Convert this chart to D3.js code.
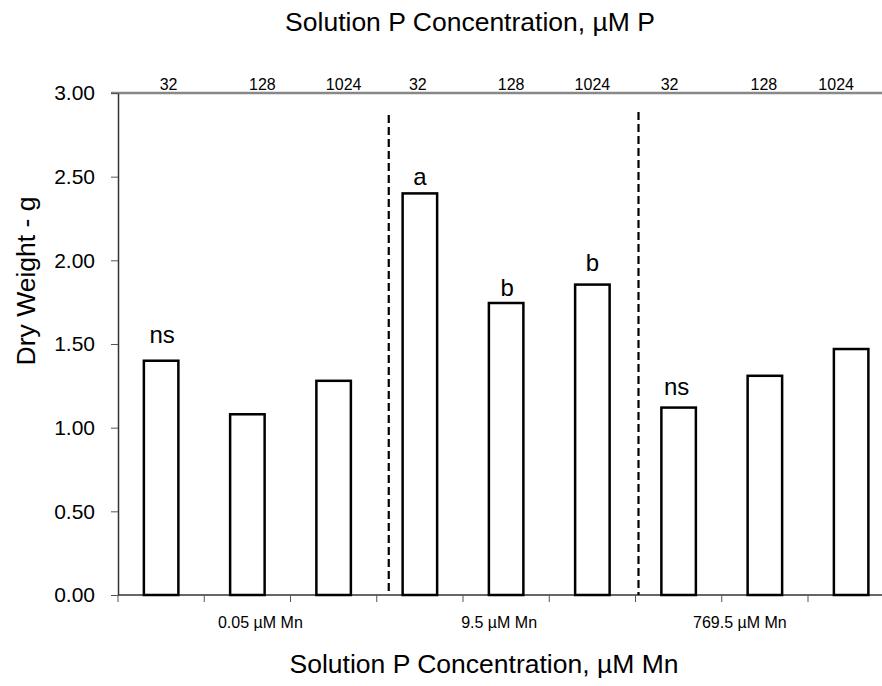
<!DOCTYPE html>
<html>
<head>
<meta charset="utf-8">
<script src="https://cdn.jsdelivr.net/npm/d3@7"></script>
<style>
  body { margin: 0; background: #fff; }
  svg { font-family: "Liberation Sans", Arial, sans-serif; }
</style>
</head>
<body>
<div id="chart"></div>
<script>
// Dry weight by Mn level (groups) and P concentration (bars)
const groups = ["0.05 µM Mn", "9.5 µM Mn", "769.5 µM Mn"];
const pLevels = ["32", "128", "1024"];
const dryWeight = [1.40, 1.08, 1.28, 2.40, 1.745, 1.855, 1.12, 1.31, 1.47];
const letters = ["ns", "", "", "a", "b", "b", "ns", "", ""];
const yTicks = [0, 0.5, 1, 1.5, 2, 2.5, 3];

// layout tweaks (pixel nudges to match the source figure)
const topLabelShift = [7.5, 15, 10, -2, 5, 0, -9, -1, -15];
const letterGap = [18, 0, 0, 8.5, 7.5, 14, 13, 0, 0];
const letterShift = [1, 0, 0, 0, 1, 0, -2, 0, 0];
const groupLabelShift = [13, -7, -25];
const dividerShift = [12, 3];

const width = 882, height = 686;
const margin = { top: 93, left: 118, bottom: 91 };
const step = 86.25;

const rows = [];
groups.forEach((g, gi) => pLevels.forEach((p, pi) => {
  const i = gi * pLevels.length + pi;
  rows.push({ id: i, group: g, p: p, value: dryWeight[i], letter: letters[i] });
}));

const svg = d3.select("#chart").append("svg")
  .attr("width", width)
  .attr("height", height);

const x = d3.scaleBand()
  .domain(rows.map(d => d.id))
  .range([margin.left, margin.left + step * rows.length])
  .padding(0);

const y = d3.scaleLinear()
  .domain([0, 3])
  .range([height - margin.bottom, margin.top]);

const barW = x.bandwidth() * 0.4;
const cx = d => x(d.id) + x.bandwidth() / 2;

// top border line
svg.append("line")
  .attr("x1", margin.left - 7).attr("x2", width)
  .attr("y1", y(3)).attr("y2", y(3))
  .attr("stroke", "#888").attr("stroke-width", 2.5);

// y axis
const yAxis = svg.append("g")
  .attr("transform", `translate(${margin.left},0)`)
  .call(d3.axisLeft(y).tickValues(yTicks).tickFormat(d3.format(".2f"))
    .tickSize(7).tickPadding(16).tickSizeOuter(0));
yAxis.select(".domain").attr("stroke", "#333").attr("stroke-width", 1.5);
yAxis.selectAll(".tick line").attr("stroke", "#555");
yAxis.selectAll(".tick text").attr("font-size", 21).attr("fill", "#000")
  .attr("font-family", "Liberation Sans, Arial, sans-serif");

// bottom axis with ticks at category boundaries
const xBottom = svg.append("g")
  .attr("transform", `translate(0,${y(0)})`);
xBottom.append("line")
  .attr("x1", margin.left).attr("x2", width)
  .attr("stroke", "#333").attr("stroke-width", 1.5);
xBottom.selectAll("line.tk")
  .data(rows)
  .join("line")
  .attr("class", "tk")
  .attr("x1", d => x(d.id)).attr("x2", d => x(d.id))
  .attr("y1", 0).attr("y2", 7)
  .attr("stroke", "#555").attr("stroke-width", 1);

// bars
svg.selectAll("rect.bar")
  .data(rows)
  .join("rect")
  .attr("class", "bar")
  .attr("x", d => cx(d) - barW / 2)
  .attr("width", barW)
  .attr("y", d => y(d.value))
  .attr("height", d => y(0) - y(d.value))
  .attr("fill", "#fff")
  .attr("stroke", "#000")
  .attr("stroke-width", 2.5);

// dashed dividers between Mn groups
const dividers = groups.slice(1).map((g, i) => x((i + 1) * pLevels.length) + dividerShift[i]);
svg.selectAll("line.div")
  .data(dividers)
  .join("line")
  .attr("class", "div")
  .attr("x1", d => d).attr("x2", d => d)
  .attr("y1", (d, i) => i === 0 ? 115 : 112)
  .attr("y2", y(0))
  .attr("stroke", "#000").attr("stroke-width", 2.2)
  .attr("stroke-dasharray", "8,4");

// P level labels on top
svg.selectAll("text.plab")
  .data(rows)
  .join("text")
  .attr("class", "plab")
  .attr("x", (d, i) => cx(d) + topLabelShift[i])
  .attr("y", y(3) - 3.5)
  .attr("text-anchor", "middle")
  .attr("font-size", 16)
  .text(d => d.p);

// significance letters
svg.selectAll("text.letter")
  .data(rows.filter(d => d.letter))
  .join("text")
  .attr("class", "letter")
  .attr("x", d => cx(d) + letterShift[d.id])
  .attr("y", d => y(d.value) - letterGap[d.id])
  .attr("text-anchor", "middle")
  .attr("font-size", 24)
  .text(d => d.letter);

// Mn group labels
svg.selectAll("text.glab")
  .data(groups)
  .join("text")
  .attr("class", "glab")
  .attr("x", (g, i) => x(i * pLevels.length + 1) + x.bandwidth() / 2 + groupLabelShift[i])
  .attr("y", y(0) + 33)
  .attr("text-anchor", "middle")
  .attr("font-size", 16)
  .text(g => g);

// titles
svg.append("text")
  .attr("x", 470).attr("y", 31)
  .attr("text-anchor", "middle")
  .attr("font-size", 26.5)
  .text("Solution P Concentration, µM P");

svg.append("text")
  .attr("x", 484).attr("y", 673)
  .attr("text-anchor", "middle")
  .attr("font-size", 26.5)
  .text("Solution P Concentration, µM Mn");

svg.append("text")
  .attr("transform", "translate(35,281) rotate(-90)")
  .attr("text-anchor", "middle")
  .attr("font-size", 26.5)
  .text("Dry Weight - g");
</script>
</body>
</html>
